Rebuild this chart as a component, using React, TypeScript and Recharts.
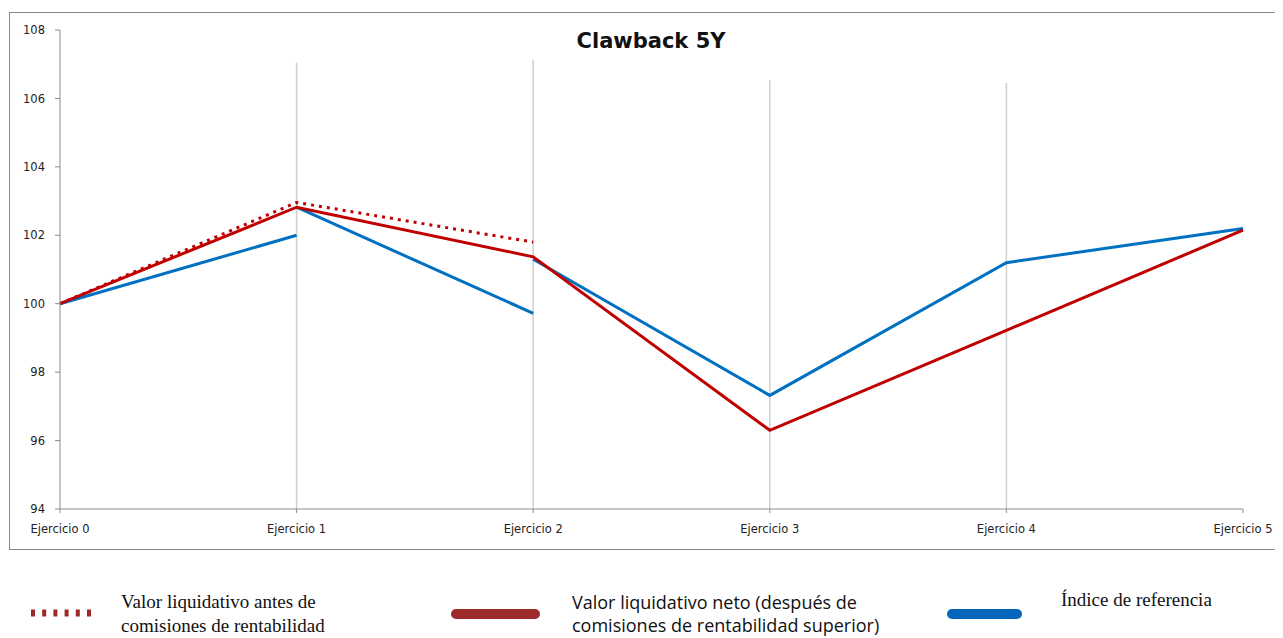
import React from 'react';
import { LineChart, Line, XAxis, YAxis, ReferenceLine } from 'recharts';

const categories = ['Ejercicio 0', 'Ejercicio 1', 'Ejercicio 2', 'Ejercicio 3', 'Ejercicio 4', 'Ejercicio 5'];
const navBeforeFees = [100, 102.96, 101.8, null, null, null];
const navNet = [100, 102.82, 101.37, 96.3, 99.22, 102.15];
const indexSeg1 = [100, 102.0, null, null, null, null];
const indexSeg2 = [null, 102.82, 99.72, null, null, null];
const indexSeg3 = [null, null, 101.3, 97.32, 101.2, 102.2];
const yTicks = [94, 96, 98, 100, 102, 104, 106, 108];
const dropLineTops = [
  { cat: 'Ejercicio 1', top: 107.04 },
  { cat: 'Ejercicio 2', top: 107.13 },
  { cat: 'Ejercicio 3', top: 106.54 },
  { cat: 'Ejercicio 4', top: 106.45 },
];

const data = categories.map((c, i) => ({
  name: c,
  before: navBeforeFees[i],
  net: navNet[i],
  idx1: indexSeg1[i],
  idx2: indexSeg2[i],
  idx3: indexSeg3[i],
}));

const RED = '#C00000';
const BLUE = '#0070C0';
const AXIS = '#8c8c8c';
const tickFont = { fontFamily: 'DejaVu Sans, Verdana, sans-serif', fontSize: 11.5, fill: '#222' };

export default function App() {
  return (
    <div style={{ position: 'relative', width: 1275, height: 630, overflow: 'hidden' }}>
      <div
        style={{
          position: 'absolute',
          left: 1,
          top: 4,
          width: 1300,
          height: 538,
          border: '1.5px solid #8a8a8a',
          boxSizing: 'border-box',
        }}
      />
      <div style={{ position: 'absolute', left: 0, top: 0 }}>
        <LineChart
          width={1275}
          height={560}
          data={data}
          margin={{ top: 22, right: 40, bottom: 29, left: 12 }}
        >
          <XAxis
            dataKey="name"
            padding={{ left: 0, right: 0 }}
            stroke={AXIS}
            tickSize={4}
            tickMargin={12}
            height={30}
            tick={tickFont}
            tickLine={{ stroke: AXIS }}
            interval={0}
          />
          <YAxis
            domain={[94, 108]}
            ticks={yTicks}
            stroke={AXIS}
            width={40}
            tickSize={5}
            tickMargin={10}
            tick={tickFont}
            tickLine={{ stroke: AXIS }}
            allowDataOverflow
          />
          {dropLineTops.map((d) => (
            <ReferenceLine
              key={d.cat}
              segment={[
                { x: d.cat, y: d.top },
                { x: d.cat, y: 94 },
              ]}
              stroke="#cfcfcf"
              strokeWidth={1.5}
            />
          ))}
          <Line
            dataKey="before"
            stroke={RED}
            strokeWidth={3}
            strokeDasharray="3 5"
            dot={false}
            isAnimationActive={false}
            connectNulls={false}
          />
          <Line dataKey="idx1" stroke={BLUE} strokeWidth={3} dot={false} isAnimationActive={false} />
          <Line dataKey="idx2" stroke={BLUE} strokeWidth={3} dot={false} isAnimationActive={false} />
          <Line dataKey="idx3" stroke={BLUE} strokeWidth={3} dot={false} isAnimationActive={false} />
          <Line dataKey="net" stroke={RED} strokeWidth={3} dot={false} isAnimationActive={false} />
        </LineChart>
      </div>
      <div
        style={{
          position: 'absolute',
          left: 0,
          top: 21,
          width: 1286,
          textAlign: 'center',
          fontFamily: 'DejaVu Sans, Tahoma, sans-serif',
          fontWeight: 'bold',
          fontSize: 21,
          color: '#111',
        }}
      >
        Clawback 5Y
      </div>

      {/* Legend */}
      <svg style={{ position: 'absolute', left: 0, top: 585 }} width={1275} height={45}>
        <line x1={23} y1={20} x2={86} y2={20} stroke="#A0282A" strokeWidth={7} strokeDasharray="4 7.2" />
        <line x1={448} y1={21} x2={527} y2={21} stroke="#9E2B2B" strokeWidth={10} strokeLinecap="round" />
        <line x1={944} y1={21} x2={1009} y2={21} stroke="#0466BB" strokeWidth={10} strokeLinecap="round" />
      </svg>
      <div
        style={{
          position: 'absolute',
          left: 113,
          top: 582,
          fontFamily: 'Liberation Serif, Times New Roman, serif',
          fontSize: 19,
          lineHeight: '24px',
          color: '#111',
        }}
      >
        Valor liquidativo antes de
        <br />
        comisiones de rentabilidad
      </div>
      <div
        style={{
          position: 'absolute',
          left: 564,
          top: 583,
          fontFamily: 'Open Sans, Liberation Sans, Arial, sans-serif',
          fontSize: 18,
          lineHeight: '23px',
          color: '#111',
        }}
      >
        Valor liquidativo neto (después de
        <br />
        comisiones de rentabilidad superior)
      </div>
      <div
        style={{
          position: 'absolute',
          left: 1053,
          top: 580,
          fontFamily: 'Liberation Serif, Times New Roman, serif',
          fontSize: 19,
          lineHeight: '24px',
          color: '#111',
        }}
      >
        Índice de referencia
      </div>
    </div>
  );
}
